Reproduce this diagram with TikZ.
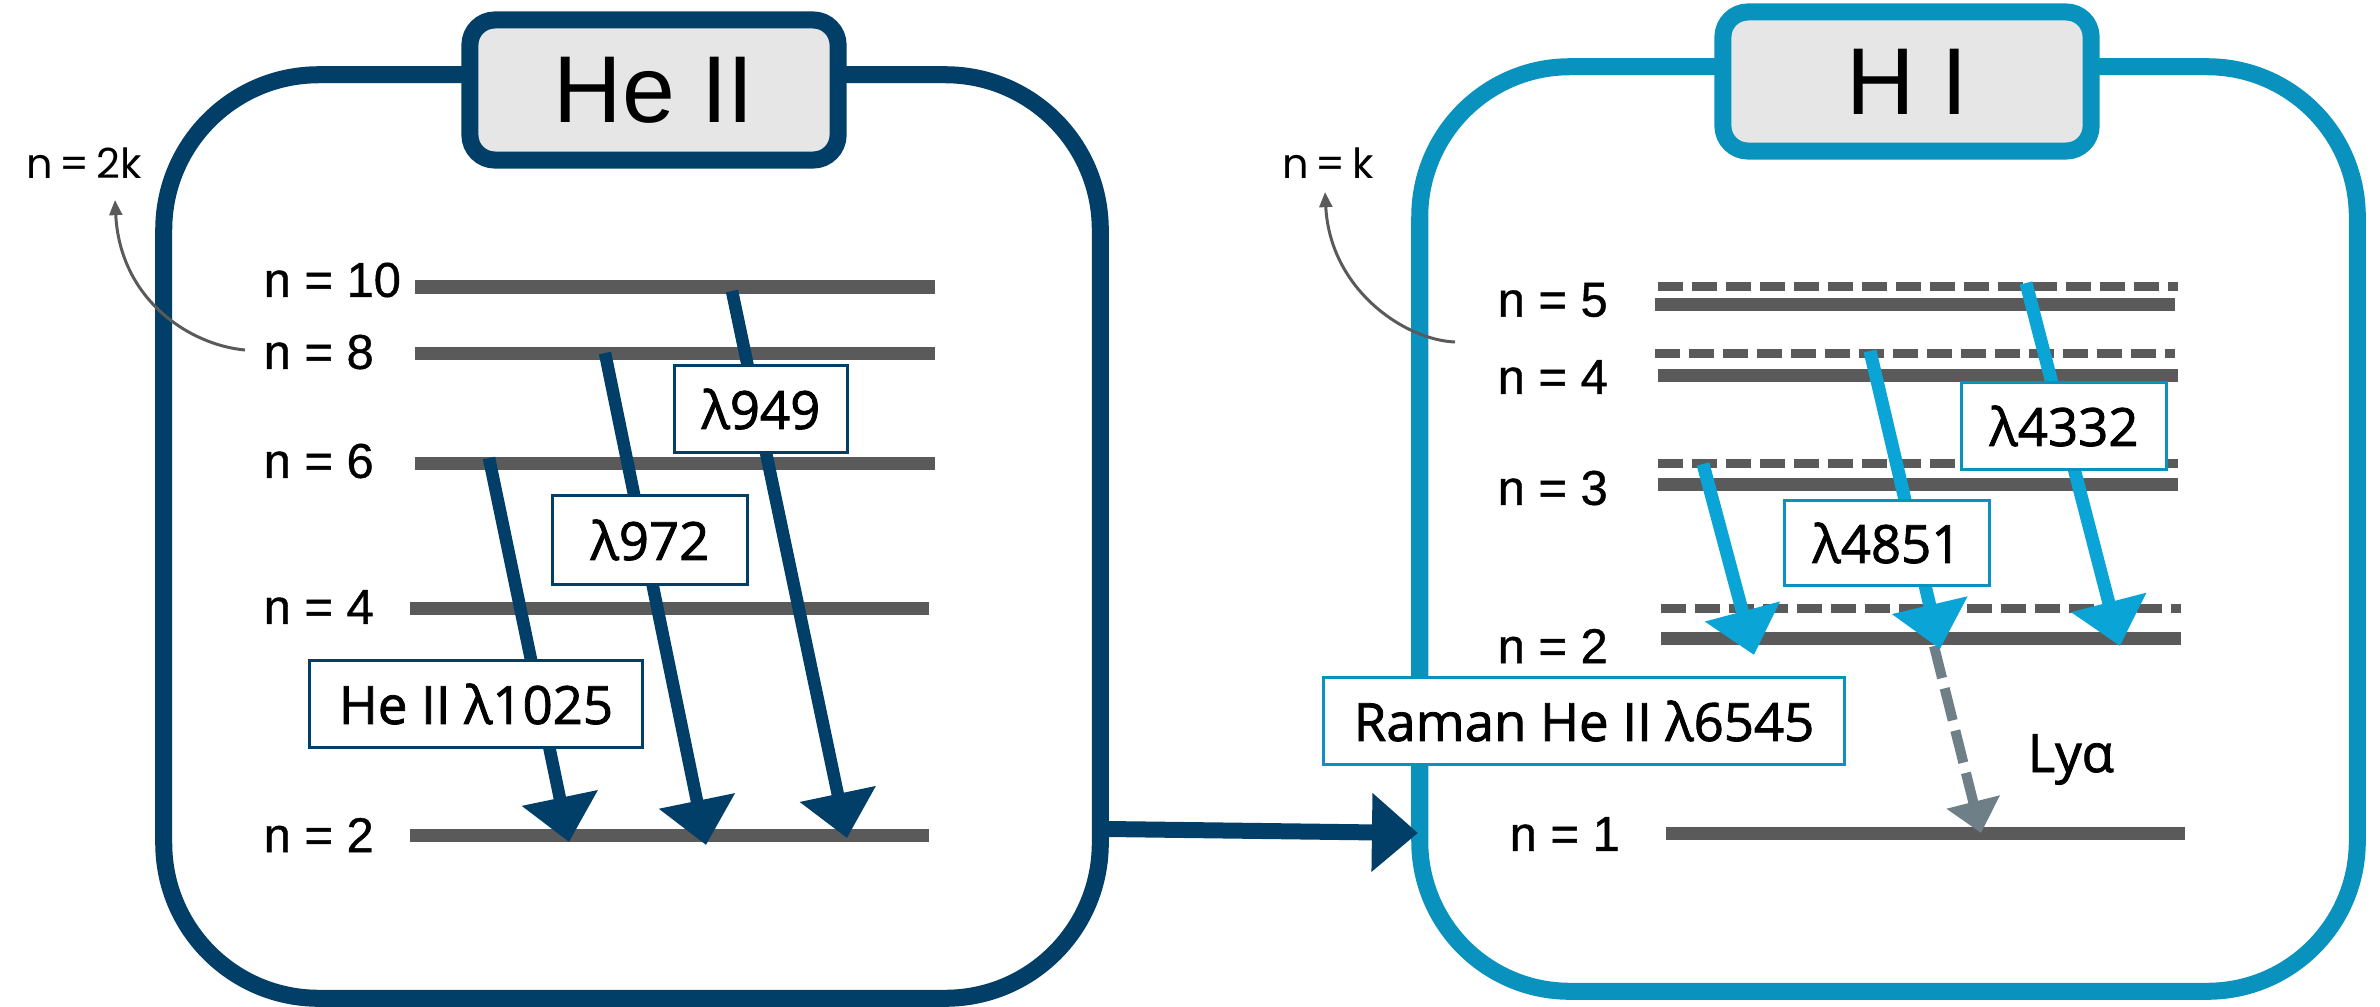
\documentclass[tikz,border=0pt]{standalone}
\usepackage{fontspec}
\setmainfont{Liberation Sans}
\newfontfamily\lvfont{Liberation Sans}[FakeBold=0.8]
\newfontfamily\lblfont{Open Sans}[FakeBold=1.5]
\newfontfamily\handfont{Poppins}
\usetikzlibrary{arrows.meta}
\definecolor{navy}{HTML}{023F68}
\definecolor{hiblue}{HTML}{0A92BF}
\definecolor{arrowblue}{HTML}{0BA4D6}
\definecolor{lvgray}{HTML}{5A5A5A}
\definecolor{lyagray}{HTML}{6E7F87}
\definecolor{titlefill}{HTML}{E6E6E6}
\begin{document}
\begin{tikzpicture}[x=0.01cm,y=-0.01cm,
  bigbox/.style={draw, line width=4.84pt, inner sep=0pt},
  titlebox/.style={draw, fill=titlefill, line width=4.84pt, rounded corners=0.25cm,
    minimum width=3.68cm, minimum height=1.40cm, inner sep=0pt,
    font=\fontsize{27pt}{30pt}\selectfont},
  lvl/.style={draw=lvgray, line width=3.7pt},
  lvld/.style={draw=lvgray, line width=2.56pt, dash pattern=on 7.1pt off 2.56pt},
  lvlab/.style={anchor=west, inner sep=0pt, font=\lvfont\fontsize{13.9pt}{16pt}\selectfont},
  trL/.style={draw=navy, line width=3.56pt, -{Triangle[length=12.8pt,width=21.3pt]}},
  trR/.style={draw=arrowblue, line width=3.7pt, -{Triangle[length=12.8pt,width=21.3pt]}},
  trLya/.style={draw=lyagray, line width=2.85pt, dash pattern=on 9.4pt off 3pt,
    -{Triangle[length=9.1pt,width=15.1pt]}},
  lblbox/.style={fill=white, line width=0.85pt, inner sep=0pt, minimum height=0.86cm,
    font=\lblfont\fontsize{15pt}{18pt}\selectfont},
  lblL/.style={lblbox, draw=navy},
  lblR/.style={lblbox, draw=hiblue},
  hand/.style={inner sep=0pt, font=\handfont\fontsize{11.8pt}{13pt}\selectfont},
  annot/.style={draw=lvgray, line width=0.85pt, -{Triangle[length=4.3pt,width=3.6pt]}},
  conn/.style={draw=navy, line width=4.55pt, -{Triangle[length=13.1pt,width=21.6pt]}}
]
\useasboundingbox (0,0) rectangle (2380,1006);

% big boxes
\node[bigbox, draw=navy, rounded corners=1.55cm, minimum width=9.36cm, minimum height=9.23cm] (heIIbox) at (632,536.5) {};
\node[bigbox, draw=hiblue, rounded corners=1.5cm, minimum width=9.37cm, minimum height=9.24cm] (hIbox) at (1888.5,529) {};

% titles
\node[titlebox, draw=navy] (heIItitle) at (654,90) {He II};
\node[titlebox, draw=hiblue, minimum height=1.39cm] (hItitle) at (1907,81.5) {H I};

% connector between boxes
\coordinate (cS) at (1108,829);
\coordinate (cE) at (1418,833);
\draw[conn] (cS) -- (cE);

% ---- He II levels
\coordinate (L10a) at (415,287); \coordinate (L10b) at (935,287);
\coordinate (L8a) at (415,353);  \coordinate (L8b) at (935,353);
\coordinate (L6a) at (415,463);  \coordinate (L6b) at (935,463);
\coordinate (L4a) at (410,608);  \coordinate (L4b) at (929,608);
\coordinate (L2a) at (410,835);  \coordinate (L2b) at (929,835);
\draw[lvl] (L10a) -- (L10b);
\draw[lvl] (L8a) -- (L8b);
\draw[lvl] (L6a) -- (L6b);
\draw[lvl] (L4a) -- (L4b);
\draw[lvl] (L2a) -- (L2b);
\node[lvlab] (lab10) at (263,280) {n = 10};
\node[lvlab] (lab8) at (263,352) {n = 8};
\node[lvlab] (lab6) at (263,461) {n = 6};
\node[lvlab] (lab4) at (263,607) {n = 4};
\node[lvlab] (lab2) at (263,835) {n = 2};

% He II transitions
\coordinate (a1s) at (489,458); \coordinate (a1e) at (569,842);
\coordinate (a2s) at (605,353); \coordinate (a2e) at (706,845);
\coordinate (a3s) at (732,291); \coordinate (a3e) at (847,838);
\draw[trL] (a1s) -- (a1e);
\draw[trL] (a2s) -- (a2e);
\draw[trL] (a3s) -- (a3e);
\node[lblL, minimum width=1.72cm] (l949) at (761,409) {λ949};
\node[lblL, minimum width=1.95cm, minimum height=0.89cm] (l972) at (650,540) {λ972};
\node[lblL, minimum width=3.33cm] (l1025) at (476,704) {He II λ1025};

% ---- H I levels
\draw[lvld] (1658,286) coordinate (D5a) -- (2178,286) coordinate (D5b);
\draw[lvl]  (1655,304) coordinate (S5a) -- (2175,304) coordinate (S5b);
\draw[lvld] (1655,353) coordinate (D4a) -- (2175,353) coordinate (D4b);
\draw[lvl]  (1658,375) coordinate (S4a) -- (2178,375) coordinate (S4b);
\draw[lvld] (1658,463) coordinate (D3a) -- (2178,463) coordinate (D3b);
\draw[lvl]  (1658,484) coordinate (S3a) -- (2178,484) coordinate (S3b);
\draw[lvld] (1661,608) coordinate (D2a) -- (2181,608) coordinate (D2b);
\draw[lvl]  (1661,638) coordinate (S2a) -- (2181,638) coordinate (S2b);
\draw[lvl]  (1666,833) coordinate (S1a) -- (2185,833) coordinate (S1b);
\node[lvlab] (rlab5) at (1497,300) {n = 5};
\node[lvlab] (rlab4) at (1497,377) {n = 4};
\node[lvlab] (rlab3) at (1497,488) {n = 3};
\node[lvlab] (rlab2) at (1497,646) {n = 2};
\node[lvlab] (rlab1) at (1509,834) {n = 1};

% H I transitions
\coordinate (b1s) at (2026,283); \coordinate (b1e) at (2120,646);
\coordinate (b2s) at (1870,351); \coordinate (b2e) at (1940,649);
\coordinate (b3s) at (1703,464); \coordinate (b3e) at (1754,655);
\coordinate (lys) at (1934,646); \coordinate (lye) at (1981,833);
\draw[trLya] (lys) -- (lye);
\draw[trR] (b1s) -- (b1e);
\draw[trR] (b2s) -- (b2e);
\draw[trR] (b3s) -- (b3e);
\node[lblR, minimum width=2.05cm] (l4332) at (2064,426) {λ4332};
\node[lblR, minimum width=2.05cm, minimum height=0.85cm] (l4851) at (1887,543) {λ4851};
\node[lblR, minimum width=5.20cm] (raman) at (1584,721) {Raman He II λ6545};
\node[anchor=base west, inner sep=0pt, font=\lblfont\fontsize{15pt}{18pt}\selectfont] (lya) at (2027,772) {Lyα};

% handwritten annotations
\node[hand] (h2k) at (84,163) {n\,=\,2k};
\node[hand] (hk) at (1328,163) {n\,=\,k};
\coordinate (an1s) at (245,350); \coordinate (an1e) at (115,200);
\coordinate (an2s) at (1455,342); \coordinate (an2e) at (1325,192);
\draw[annot] (an1s) .. controls (190,345) and (120,300) .. (an1e);
\draw[annot] (an2s) .. controls (1405,340) and (1330,290) .. (an2e);
\end{tikzpicture}
\end{document}
